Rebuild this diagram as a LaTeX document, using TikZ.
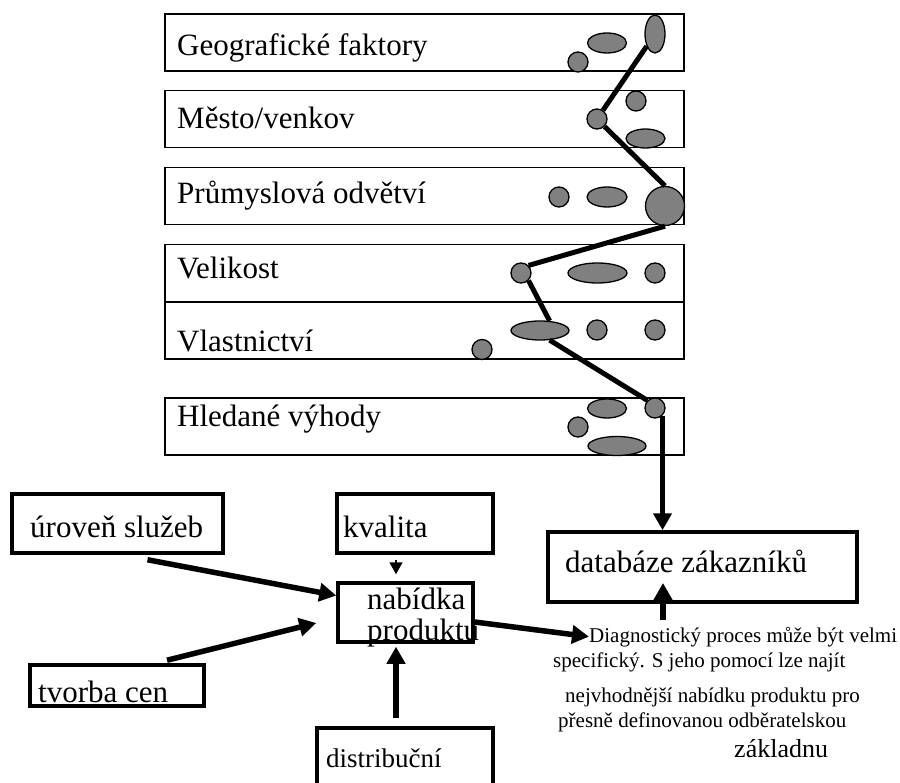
\documentclass[tikz,border=0pt]{standalone}
\usepackage{fontspec}
\setmainfont{Liberation Serif}
\usepackage{tikz}
\usetikzlibrary{arrows.meta, shapes.geometric}
\definecolor{blobc}{RGB}{128,128,128}

\begin{document}
\begin{tikzpicture}[x=1pt, y=-1pt,
  seg/.style={draw, line width=1.3pt, inner sep=0pt, minimum width=519pt, minimum height=57pt},
  tbox/.style={draw, line width=3.5pt, inner sep=0pt},
  dot/.style={circle, draw, fill=blobc, line width=1.3pt, inner sep=0pt, minimum size=20pt},
  oval/.style={ellipse, draw, fill=blobc, line width=1.3pt, inner sep=0pt},
  lab/.style={anchor=base west, inner sep=0pt, font=\fontsize{31}{36}\selectfont},
  note/.style={anchor=base west, inner sep=0pt, font=\fontsize{21}{25}\selectfont},
  link/.style={line width=5pt},
  arr/.style={line width=5.5pt, -{Triangle[length=17pt, width=18pt]}},
  karr/.style={line width=1.5pt, -{Triangle[length=12pt, width=13pt]}}]
\clip (0,0) rectangle (900,783);
\node[seg] (s1) at (424.5,42.5) {};
\node[seg] (s2) at (424.5,119) {};
\node[seg] (s3) at (424.5,196) {};
\node[seg] (s4) at (424.5,273) {};
\node[seg] (s5) at (424.5,330.5) {};
\node[seg] (s6) at (424.5,426.5) {};
\node[lab] (t1) at (177,56) {Geografické faktory};
\node[lab] (t2) at (177,129) {Město/venkov};
\node[lab] (t3) at (177,204) {Průmyslová odvětví};
\node[lab] (t4) at (177,279) {Velikost};
\node[lab] (t5) at (177,352) {Vlastnictví};
\node[lab] (t6) at (177,427) {Hledané výhody};
\node[dot] (g1) at (578,62) {};
\node[oval, minimum width=39pt, minimum height=20pt] (g2) at (607,43) {};
\node[oval, minimum width=20pt, minimum height=38pt] (g3) at (655,34) {};
\node[dot] (m1) at (597,119) {};
\node[dot] (m2) at (636,101) {};
\node[oval, minimum width=39pt, minimum height=19pt] (m3) at (645.5,138.5) {};
\node[dot] (p1) at (559,197) {};
\node[oval, minimum width=40pt, minimum height=20pt] (p2) at (607,197) {};
\node[dot, minimum size=39pt] (p3) at (665,206) {};
\node[dot] (v1) at (521,273) {};
\node[oval, minimum width=59pt, minimum height=20pt] (v2) at (597.5,273) {};
\node[dot] (v3) at (655,273) {};
\node[oval, minimum width=58pt, minimum height=19pt] (o1) at (540,330.5) {};
\node[dot] (o2) at (597,330) {};
\node[dot] (o3) at (655,330) {};
\node[dot] (o4) at (482,349.5) {};
\node[dot] (h1) at (655,408) {};
\node[oval, minimum width=39pt, minimum height=19pt] (h2) at (607,408.5) {};
\node[dot] (h3) at (578,427) {};
\node[oval, minimum width=58pt, minimum height=19pt] (h4) at (617,446) {};
\draw[link] (g3) -- (m1);
\draw[link] (m1.south east) -- (p3.north);
\draw[link] (p3.south) -- (v1.north east);
\draw[link] (v1.south east) -- (o1.45);
\draw[link] (o1.-45) -- (h1.north west);
\node[tbox, minimum width=211pt, minimum height=59pt] (ur) at (117.5,523.5) {};
\node[tbox, minimum width=156pt, minimum height=59pt] (kv) at (415,523.5) {};
\node[tbox, minimum width=135pt, minimum height=59pt] (nab) at (405.5,612.5) {};
\node[tbox, minimum width=174pt, minimum height=41pt] (tc) at (117,685.5) {};
\node[tbox, minimum width=176pt, minimum height=80pt] (dist) at (405,768) {};
\node[tbox, minimum width=309pt, minimum height=70pt] (db) at (702.5,567) {};
\node[lab] (urt) at (30,537) {úroveň služeb};
\node[lab] (kvt) at (343,537) {kvalita};
\node[lab] (nabt) at (367,609) {nabídka};
\node[lab] (nabt2) at (367,640) {produktu};
\node[lab] (tct) at (38,702) {tvorba cen};
\node[lab, font=\fontsize{27}{32}\selectfont] (distt) at (326,767) {distribuční};
\node[lab] (dbt) at (565,572) {databáze zákazníků};
\node[note] (d1) at (589,642) {Diagnostický proces může být velmi};
\node[note] (d2) at (553,667) {specifický. S jeho pomocí lze najít};
\node[note] (d3) at (565,702) {nejvhodnější nabídku produktu pro};
\node[note] (d4) at (558,727) {přesně definovanou odběratelskou};
\node[note, font=\fontsize{26}{30}\selectfont] (d5) at (734,757) {základnu};
\coordinate (dbtip) at (663,583);
\draw[arr] (h1.south east) -- (h1.south east |- db.north);
\draw[arr] (663,620) -- (dbtip);
\draw[arr] ([shift={(30,5)}]ur.south) -- ([yshift=17pt]nab.west);
\draw[arr] ([shift={(50,-3)}]tc.north) -- ([shift={(-20,10.5)}]nab.west);
\draw[arr] ([shift={(-9,-8)}]dist.north) -- ([shift={(-9.5,3)}]nab.south);
\draw[karr] ([shift={(-19,5)}]kv.south) -- ([shift={(-9.5,-7)}]nab.north);
\draw[arr] ([yshift=-9.5pt]nab.east) -- (d1.west);
\end{tikzpicture}
\end{document}
